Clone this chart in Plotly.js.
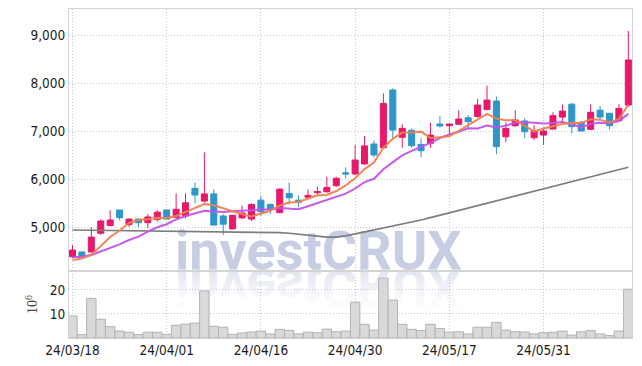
<!DOCTYPE html>
<html><head><meta charset="utf-8">
<script src="https://cdn.plot.ly/plotly-3.0.1.min.js"></script>
<style>html,body{margin:0;padding:0;background:#fff}#chart{width:642px;height:366px}</style>
</head><body><div id="chart"></div>
<script>
const dates = ['24/03/18','24/03/19','24/03/20','24/03/21','24/03/22','24/03/25','24/03/26','24/03/27','24/03/28','24/03/29',
'24/04/01','24/04/02','24/04/03','24/04/04','24/04/05','24/04/08','24/04/09','24/04/11','24/04/12','24/04/15',
'24/04/16','24/04/17','24/04/18','24/04/19','24/04/22','24/04/23','24/04/24','24/04/25','24/04/26','24/04/29',
'24/04/30','24/05/02','24/05/03','24/05/07','24/05/08','24/05/09','24/05/10','24/05/13','24/05/14','24/05/16',
'24/05/17','24/05/20','24/05/21','24/05/22','24/05/23','24/05/24','24/05/27','24/05/28','24/05/29','24/05/30',
'24/05/31','24/06/03','24/06/04','24/06/05','24/06/07','24/06/10','24/06/11','24/06/12','24/06/13','24/06/14'];
const openP = [4380,4480,4480,4870,5030,5355,5050,5165,5090,5160,5355,5200,5230,5805,5540,5690,5230,4960,5190,5165,
5560,5470,5300,5700,5560,5620,5715,5735,5860,6130,6105,6315,6730,6650,7855,6870,7015,6720,6745,7145,
7110,7140,7275,7300,7450,7625,6880,7110,7210,6860,6915,7040,7290,7560,7180,7035,7435,7370,7215,7540];
const highP = [4625,4490,4995,5160,5350,5355,5180,5175,5270,5355,5360,5700,5700,5925,6555,5785,5270,5250,5445,5495,
5645,5490,5800,5925,5660,5785,5840,6050,6045,6245,6710,6895,6800,7785,7890,7140,7055,6850,7175,7310,
7150,7435,7335,7665,7945,7715,7180,7435,7265,7125,7070,7390,7555,7575,7210,7555,7520,7370,7555,9085];
const lowP = [4355,4370,4470,4835,5010,5140,5005,4995,4975,5110,5160,5180,5180,5495,5505,5040,4835,4955,5165,5120,
5230,5270,5290,5470,5410,5600,5660,5715,5840,6015,6085,6290,6450,6640,6850,6650,6650,6450,6650,7075,
6895,7125,7055,7275,7430,6515,6765,7090,6850,6810,6710,7040,7140,6950,7000,7030,7250,7035,7200,7500];
const closeP = [4520,4385,4790,5125,5145,5195,5165,5090,5210,5310,5165,5370,5505,5665,5690,5040,5060,5245,5290,5470,
5320,5370,5790,5610,5515,5660,5735,5825,6015,6105,6395,6690,6500,7575,7020,7055,6695,6590,6915,7105,
7145,7250,7195,7540,7645,6675,7055,7230,6985,7000,7000,7320,7415,7090,7000,7390,7290,7110,7470,8480];
const ma5 = [4310,4345,4420,4610,4793,4928,5084,5144,5161,5194,5188,5229,5312,5403,5479,5454,5392,5340,5265,5221,
5277,5339,5448,5512,5521,5589,5662,5669,5750,5868,6015,6206,6341,6653,6836,6968,6969,6987,6855,6872,
6890,7001,7122,7247,7355,7261,7222,7229,7118,6989,7054,7107,7144,7165,7165,7243,7237,7176,7252,7548];
const ma10 = [4368,4382,4417,4486,4556,4639,4729,4799,4903,4994,5058,5157,5228,5282,5337,5321,5311,5326,5334,5350,
5366,5366,5394,5389,5371,5433,5501,5559,5631,5695,5802,5934,6005,6202,6352,6492,6588,6664,6754,6854,
6929,6985,7055,7051,7114,7076,7112,7176,7183,7172,7158,7165,7187,7142,7077,7149,7172,7160,7209,7357];
const maLong = [4937,4935,4934,4932,4931,4929,4928,4926,4925,4923,4921,4919,4917,4915,4913,4911,4909,4906,4903,4900,
4896,4890,4882,4870,4855,4835,4810,4790,4790,4815,4855,4900,4940,4985,5020,5060,5100,5146,5195,5245,
5295,5345,5400,5445,5495,5545,5590,5640,5690,5740,5790,5840,5890,5940,5990,6040,6090,6140,6190,6244];
const volume = [9.2,1.4,16.5,7.8,4.7,2.9,2.4,1.4,2.4,2.4,1.5,5.3,5.8,6.2,19.6,4.9,4.5,1.5,2.1,2.5,
2.9,1.7,3.6,3.2,1.7,2.4,2.2,3.7,2.6,2.9,14.9,5.7,3.3,24.9,15.8,5.7,3.6,3.1,5.7,4.0,
2.4,2.6,1.7,4.5,4.5,6.5,3.3,2.6,2.5,1.7,2.2,2.4,2.9,1.2,2.6,3.1,1.7,1.0,2.9,20.3];
const xTicks = ['24/03/18','24/04/01','24/04/16','24/04/30','24/05/17','24/05/31'];
const priceTicks = [5000,6000,7000,8000,9000];
const volTicks = [10,20];

const RED = '#e6196b', BLUE = '#2f96c9';
const GRID = '#c3c8dc';
const DASH = '1px,2px';
const tickFont = {family:'DejaVu Sans Condensed, Roboto, sans-serif', size:13.5, color:'#1a1a1a'};

const data = [
  {type:'bar', x:dates, y:volume, xaxis:'x', yaxis:'y',
   marker:{color:'#d9d9d9', line:{color:'#b3b3b3', width:1}}, hoverinfo:'skip'},
  {type:'candlestick', x:dates, open:openP, high:highP, low:lowP, close:closeP, xaxis:'x', yaxis:'y2',
   increasing:{line:{color:RED, width:1}, fillcolor:RED},
   decreasing:{line:{color:BLUE, width:1}, fillcolor:BLUE},
   whiskerwidth:0, hoverinfo:'skip'},
  {type:'scatter', mode:'lines', x:dates, y:maLong, xaxis:'x', yaxis:'y2', line:{color:'#7d7d7d', width:1.6}, hoverinfo:'skip'},
  {type:'scatter', mode:'lines', x:dates, y:ma10, xaxis:'x', yaxis:'y2', line:{color:'rgba(198,80,234,0.95)', width:2}, hoverinfo:'skip'},
  {type:'scatter', mode:'lines', x:dates, y:ma5, xaxis:'x', yaxis:'y2', line:{color:'rgba(240,128,80,0.95)', width:2}, hoverinfo:'skip'}
];

const layout = {
  width:642, height:366,
  margin:{l:69, r:10, t:9, b:28},
  paper_bgcolor:'#ffffff', plot_bgcolor:'rgba(0,0,0,0)',
  showlegend:false, boxgap:0.36, boxgroupgap:0, bargap:0,
  font:tickFont,
  xaxis:{type:'category', range:[-0.37,59.39], anchor:'y', tickmode:'array', tickvals:xTicks, ticktext:xTicks,
    showgrid:true, gridcolor:GRID, griddash:DASH, gridwidth:1, showline:true, linecolor:'#d4d4d4', linewidth:1, mirror:'all',
    rangeslider:{visible:false}, ticks:'', zeroline:false, tickfont:tickFont, fixedrange:true},
  yaxis:{domain:[0,0.203], range:[0,27.8], tickmode:'array', tickvals:volTicks, showgrid:true, gridcolor:GRID, griddash:DASH,
    showline:true, linecolor:'#d4d4d4', mirror:'all', zeroline:false, ticks:'', tickfont:tickFont,
    title:{text:'10<sup>6</sup>', font:{family:'Liberation Serif', size:14, color:'#444'}, standoff:8}},
  yaxis2:{domain:[0.203,1], anchor:'x', range:[4079,9542], tickmode:'array', tickvals:priceTicks, tickformat:',',
    showgrid:true, gridcolor:GRID, griddash:DASH, showline:true, linecolor:'#d4d4d4', mirror:'all', zeroline:false,
    ticks:'', tickfont:tickFont},
  annotations:[{xref:'paper', yref:'paper', x:0.444, y:0.163, xanchor:'center', yanchor:'bottom', showarrow:false,
    text:'investCRUX', font:{family:'Roboto', size:54, color:'#c7cde3', weight:700}}]
};

Plotly.newPlot('chart', data, layout, {staticPlot:true}).then(function(gd){
  const ns = 'http://www.w3.org/2000/svg';
  const paper = gd.querySelector('svg.main-svg');
  const cart = paper.querySelector('.cartesianlayer');
  const ann = gd.querySelector('.infolayer g.annotation');
  if (!ann || !cart) return;
  paper.insertBefore(ann, cart);
  const txt = ann.querySelector('text.annotation-text');
  if (!txt) return;
  const by = parseFloat(txt.getAttribute('y')) || 0;
  let defs = paper.querySelector('defs');
  if (!defs) { defs = document.createElementNS(ns,'defs'); paper.insertBefore(defs, paper.firstChild); }
  const grad = document.createElementNS(ns,'linearGradient');
  grad.setAttribute('id','wmfade'); grad.setAttribute('x1','0'); grad.setAttribute('y1','0');
  grad.setAttribute('x2','0'); grad.setAttribute('y2','1');
  [[0,0.0],[0.35,0.12],[0.8,0.55],[1,0.55]].forEach(function(s){
    const st = document.createElementNS(ns,'stop');
    st.setAttribute('offset', s[0]); st.setAttribute('stop-color','#c7cde3'); st.setAttribute('stop-opacity', s[1]);
    grad.appendChild(st);
  });
  defs.appendChild(grad);
  const clone = txt.cloneNode(true);
  const prev = clone.getAttribute('transform') || '';
  clone.setAttribute('transform', (prev + ' matrix(1 0 0 -1 0 ' + (2*by) + ')').trim());
  clone.style.fill = 'url(#wmfade)';
  txt.parentNode.insertBefore(clone, txt);
});
</script>
</body></html>
